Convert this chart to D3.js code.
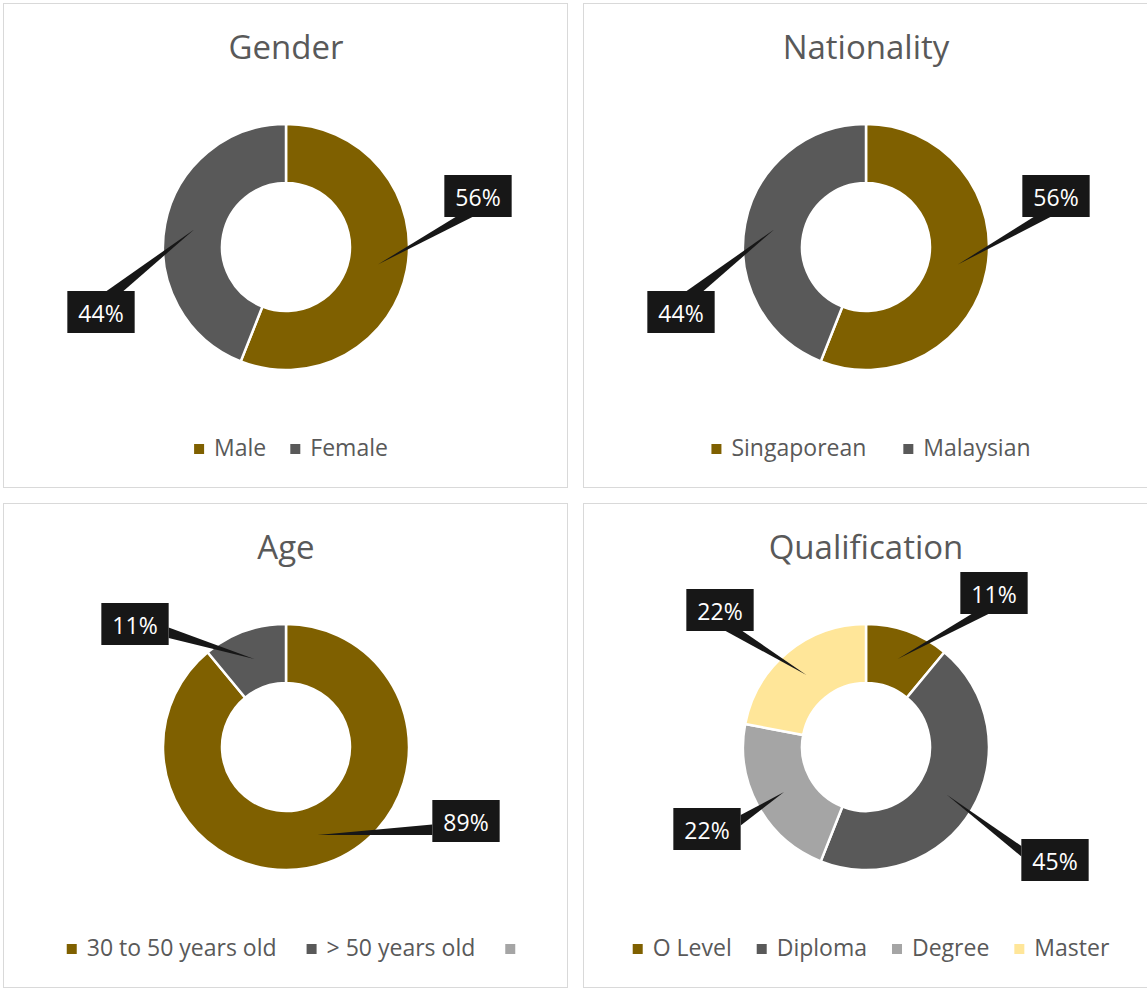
<!DOCTYPE html>
<html lang="en">
<head>
    <meta charset="UTF-8">
    <title>Survey Profile</title>
    <script src="https://d3js.org/d3.v7.min.js"></script>
    <style>
        body { margin: 0; background: #fff; }
        text { font-family: "Open Sans", "Noto Sans", sans-serif; }
    </style>
</head>
<body>
    <svg width="1147" height="990"></svg>

    <script>

        // Chart data
        const genderCats = ["Male", "Female"];
        const genderVals = [56, 44];

        const nationalityCats = ["Singaporean", "Malaysian"];
        const nationalityVals = [56, 44];

        const ageCats = ["30 to 50 years old", "> 50 years old", ""];
        const ageVals = [89, 11, 0];

        const qualCats = ["O Level", "Diploma", "Degree", "Master"];
        const qualVals = [11, 45, 22, 22];

        const sliceColors = ["#7F6000", "#595959", "#A5A5A5", "#FFE699"];

        // Where each data label box sits, relative to the donut centre
        const genderLabelPos = [[192, -51], [-185, 65]];
        const nationalityLabelPos = [[190, -51], [-185, 65]];
        const ageLabelPos = [[180, 74], [-151, -123], null];
        const qualLabelPos = [[128, -154], [189, 113], [-159, 82], [-146, -137]];

        const charts = [
            { title: "Gender", cats: genderCats, vals: genderVals, pos: genderLabelPos, x: 3, y: 3, gap: 24 },
            { title: "Nationality", cats: nationalityCats, vals: nationalityVals, pos: nationalityLabelPos, x: 583, y: 3, gap: 37 },
            { title: "Age", cats: ageCats, vals: ageVals, pos: ageLabelPos, x: 3, y: 503, gap: 30 },
            { title: "Qualification", cats: qualCats, vals: qualVals, pos: qualLabelPos, x: 583, y: 503, gap: 25 }
        ];

        const panelW = 564, panelH = 484;
        const outerR = 123, innerR = 64;

        const svg = d3.select("svg");

        const pie = d3.pie().sort(null).value(d => d.value);
        const arc = d3.arc().innerRadius(innerR).outerRadius(outerR);
        const midArc = d3.arc().innerRadius((innerR + outerR) / 2).outerRadius((innerR + outerR) / 2);

        // wedge callout base, same rule as the office "wedgeRectCallout" shape
        function wedgeBase(bx, by, w, h, tx, ty) {
            const cx = bx + w / 2, cy = by + h / 2;
            const dx = tx - cx, dy = ty - cy;
            const dq = dx * h / w;
            if (Math.abs(dy) > Math.abs(dq)) {
                const x1 = bx + w * (dx > 0 ? 7 : 2) / 12;
                const x2 = bx + w * (dx > 0 ? 10 : 5) / 12;
                const yy = dy > 0 ? by + h : by;
                return [[x1, yy], [x2, yy]];
            } else {
                const y1 = by + h * (dy > 0 ? 7 : 2) / 12;
                const y2 = by + h * (dy > 0 ? 10 : 5) / 12;
                const xx = dx > 0 ? bx + w : bx;
                return [[xx, y1], [xx, y2]];
            }
        }

        charts.forEach(chart => {
            const data = chart.cats.map((c, i) => ({ cat: c, value: chart.vals[i], color: sliceColors[i], pos: chart.pos[i] }));

            const g = svg.append("g").attr("transform", `translate(${chart.x},${chart.y})`);

            // Panel border
            g.append("rect")
                .attr("x", 0.5).attr("y", 0.5)
                .attr("width", panelW).attr("height", panelH)
                .attr("fill", "#fff")
                .attr("stroke", "#d9d9d9");

            // Title
            g.append("text")
                .attr("x", panelW / 2 + 1)
                .attr("y", 56)
                .attr("text-anchor", "middle")
                .style("font-size", "33px")
                .attr("fill", "#595959")
                .text(chart.title);

            const cx = panelW / 2 + 1, cy = 244;
            const donut = g.append("g").attr("transform", `translate(${cx},${cy})`);

            const arcs = pie(data);

            donut.selectAll("path.slice")
                .data(arcs.filter(d => d.data.value > 0))
                .enter()
                .append("path")
                .attr("class", "slice")
                .attr("d", arc)
                .attr("fill", d => d.data.color)
                .attr("stroke", "#fff")
                .attr("stroke-width", 2.5);

            // Data labels with wedge callouts
            arcs.filter(d => d.data.value > 0 && d.data.pos).forEach(d => {
                const tip = midArc.centroid(d);
                const lbl = donut.append("g");
                const txt = lbl.append("text")
                    .attr("text-anchor", "middle")
                    .attr("dominant-baseline", "central")
                    .style("font-size", "23px")
                    .attr("fill", "#fff")
                    .text(d.data.value + "%");
                const tw = txt.node().getComputedTextLength();
                const w = tw + 22, h = 42;
                const bx = d.data.pos[0] - w / 2, by = d.data.pos[1] - h / 2;
                const base = wedgeBase(bx, by, w, h, tip[0], tip[1]);

                lbl.insert("path", "text")
                    .attr("d", `M${base[0][0]},${base[0][1]}L${tip[0]},${tip[1]}L${base[1][0]},${base[1][1]}Z`)
                    .attr("fill", "#171717");
                lbl.insert("rect", "text")
                    .attr("x", bx).attr("y", by)
                    .attr("width", w).attr("height", h)
                    .attr("fill", "#171717");
                txt.attr("x", d.data.pos[0]).attr("y", d.data.pos[1] + 1);
            });

            // Legend
            const legend = g.append("g");
            let lx = 0;
            data.forEach((d, i) => {
                const item = legend.append("g").attr("transform", `translate(${lx},0)`);
                item.append("rect")
                    .attr("x", 0).attr("y", -12)
                    .attr("width", 10).attr("height", 10)
                    .attr("fill", d.color);
                const t = item.append("text")
                    .attr("x", 20).attr("y", 0)
                    .style("font-size", "23px")
                    .attr("fill", "#595959")
                    .text(d.cat);
                const tw = d.cat ? t.node().getComputedTextLength() : 0;
                lx += (d.cat ? 20 + tw : 10) + (i < data.length - 1 ? chart.gap : 0);
            });
            legend.attr("transform", `translate(${cx - lx / 2 + 5},453)`);
        });

    </script>
</body>
</html>
